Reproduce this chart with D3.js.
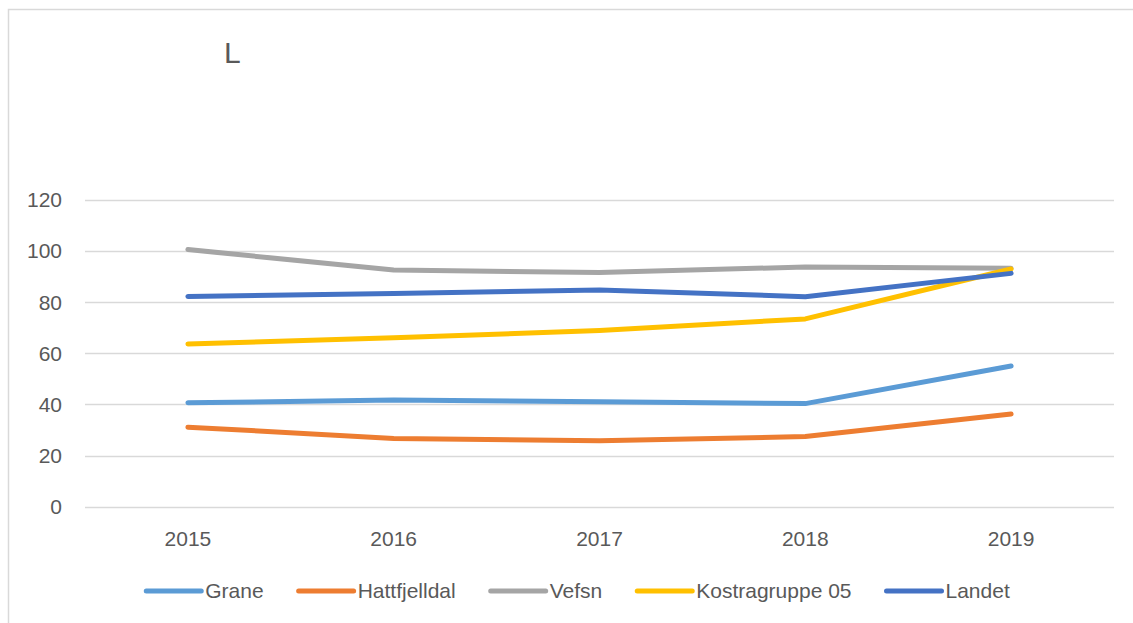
<!DOCTYPE html>
<html>
<head>
<meta charset="utf-8">
<script src="https://cdn.jsdelivr.net/npm/d3@7"></script>
<style>
  body { margin: 0; background: #fff; }
  svg { display: block; font-family: "Liberation Sans", Arial, sans-serif; }
</style>
</head>
<body>
<div id="chart"></div>
<script>
// Data
const years = ["2015", "2016", "2017", "2018", "2019"];
const seriesNames = ["Grane", "Hattfjelldal", "Vefsn", "Kostragruppe 05", "Landet"];
const grane = [40.6, 41.7, 41.0, 40.3, 55.0];
const hattfjelldal = [31.1, 26.7, 25.8, 27.4, 36.2];
const vefsn = [100.5, 92.5, 91.5, 93.7, 93.2];
const kostragruppe05 = [63.6, 66.0, 68.9, 73.4, 92.9];
const landet = [82.2, 83.3, 84.7, 82.1, 91.2];
const yTicks = [0, 20, 40, 60, 80, 100, 120];
const colours = ["#5B9BD5", "#ED7D31", "#A5A5A5", "#FFC000", "#4472C4"];

const allValues = [grane, hattfjelldal, vefsn, kostragruppe05, landet];

const width = 1133, height = 623;
const textColour = "#595959";

const svg = d3.select("#chart").append("svg")
  .attr("width", width)
  .attr("height", height);

// Chart border
svg.append("rect")
  .attr("x", 8.5).attr("y", 9.5)
  .attr("width", width + 10).attr("height", height + 10)
  .attr("fill", "none")
  .attr("stroke", "#d9d9d9")
  .attr("stroke-width", 1.5);

// Title
svg.append("text")
  .attr("x", 224).attr("y", 63)
  .attr("font-size", 30)
  .attr("fill", textColour)
  .text("L");

// Scales
const x = d3.scaleBand().domain(years).range([85, 1114]);
const y = d3.scaleLinear().domain([0, 120]).range([506.7, 199.7]);

// Gridlines
svg.append("g")
  .selectAll("line")
  .data(yTicks)
  .join("line")
  .attr("x1", 85).attr("x2", 1114)
  .attr("y1", d => Math.round(y(d)) + 0.5)
  .attr("y2", d => Math.round(y(d)) + 0.5)
  .attr("stroke", "#d9d9d9")
  .attr("stroke-width", 1.3);

// Y axis labels
svg.append("g")
  .selectAll("text")
  .data(yTicks)
  .join("text")
  .attr("x", 62)
  .attr("y", d => y(d) + 7.5)
  .attr("text-anchor", "end")
  .attr("font-size", 21)
  .attr("fill", textColour)
  .text(d => d);

// X axis labels
svg.append("g")
  .selectAll("text")
  .data(years)
  .join("text")
  .attr("x", d => x(d) + x.bandwidth() / 2)
  .attr("y", 546)
  .attr("text-anchor", "middle")
  .attr("font-size", 21)
  .attr("fill", textColour)
  .text(d => d);

// Lines
const line = d3.line()
  .x((d, i) => x(years[i]) + x.bandwidth() / 2)
  .y(d => y(d));

svg.append("g")
  .attr("fill", "none")
  .attr("stroke-width", 5)
  .attr("stroke-linecap", "round")
  .attr("stroke-linejoin", "round")
  .selectAll("path")
  .data(allValues)
  .join("path")
  .attr("stroke", (d, i) => colours[i])
  .attr("d", line);

// Legend
const legend = svg.append("g");
const items = legend.selectAll("g")
  .data(seriesNames)
  .join("g");

items.append("line")
  .attr("x1", 0).attr("x2", 55)
  .attr("y1", 591).attr("y2", 591)
  .attr("stroke", (d, i) => colours[i])
  .attr("stroke-width", 5)
  .attr("stroke-linecap", "round");

items.append("text")
  .attr("x", 59)
  .attr("y", 598)
  .attr("font-size", 21)
  .attr("fill", textColour)
  .text(d => d);

let pos = 0;
items.each(function () {
  const w = this.querySelector("text").getComputedTextLength();
  d3.select(this).attr("transform", `translate(${pos},0)`);
  pos += 59 + w + 35;
});
const total = pos - 35;
legend.attr("transform", `translate(${578 - total / 2},0)`);
</script>
</body>
</html>
